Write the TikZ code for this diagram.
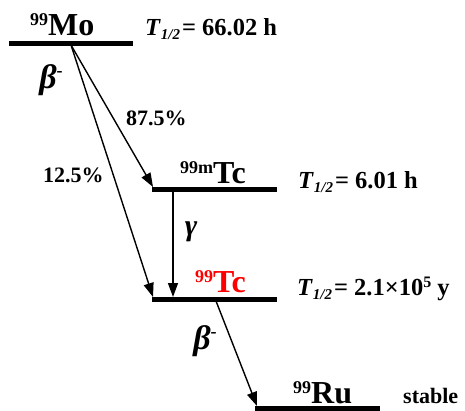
\documentclass[tikz,border=0pt]{standalone}
\usepackage{fontspec}
\setmainfont{Liberation Serif}
\usetikzlibrary{arrows.meta}
\newcommand{\halfT}{\textit{T}\raisebox{-4pt}{\fontsize{15}{15}\selectfont\itshape 1/2}\kern2pt}
\newcommand{\massno}[1]{\raisebox{10pt}{\fontsize{18}{18}\selectfont #1}}
\newcommand{\expo}[1]{\raisebox{8pt}{\fontsize{16}{16}\selectfont #1}}
\newcommand{\betaminus}{β\raisebox{12pt}{\fontsize{18}{18}\selectfont\upshape -}}
\begin{document}
\begin{tikzpicture}[x=1pt,y=-1pt,
 level/.style={line width=5pt},
 decay/.style={line width=1.4pt,-{Triangle[length=14pt,width=10pt]}},
 nuc/.style={font=\fontsize{32}{34}\selectfont\bfseries, inner sep=0, anchor=base west},
 half/.style={font=\fontsize{24.5}{26}\selectfont\bfseries, anchor=base west, inner sep=0},
 lbl/.style={font=\fontsize{22}{24}\selectfont\bfseries, inner sep=0, anchor=base west},
 greek/.style={font=\fontsize{34}{36}\selectfont\bfseries\itshape, inner sep=0}]
\useasboundingbox (0,0) rectangle (465,410);
% levels
\coordinate (moL) at (9,43);   \coordinate (moR) at (133,43);
\coordinate (tcmL) at (152,189); \coordinate (tcmR) at (277,189);
\coordinate (tcL) at (152,299); \coordinate (tcR) at (277,299);
\coordinate (ruL) at (255,408); \coordinate (ruR) at (380,408);
\draw[level] (moL) -- (moR);
\draw[level] (tcmL) -- (tcmR);
\draw[level] (tcL) -- (tcR);
\draw[level] (ruL) -- (ruR);
% arrow endpoints
\coordinate (moS) at (71,45);
\coordinate (gS) at (173,191);
\coordinate (gE) at (173,297);
\coordinate (tcS) at (216,301);
\coordinate (ruE) at (257,406);
\coordinate (tcmE) at (153,187);
\coordinate (tcE) at (153,297);
\draw[decay] (moS) -- (tcmE);
\draw[decay] (moS) -- (tcE);
\draw[decay] (gS) -- (gE);
\draw[decay] (tcS) -- (ruE);
% labels
\node[nuc] (mo) at (30,35) {\massno{99}Mo};
\node[half] (tmo) at (145,35) {\halfT= 66.02 h};
\node[nuc] (tcm) at (180,183) {\massno{99m}Tc};
\node[half] (ttcm) at (298,188) {\halfT= 6.01 h};
\node[nuc, text=red] (tc) at (195,292) {\massno{99}Tc};
\node[half] (ttc) at (297,295) {\halfT= 2.1×10\expo{5} y};
\node[nuc] (ru) at (293,403) {\massno{99}Ru};
\node[font=\fontsize{22}{24}\selectfont\bfseries, anchor=base west, inner sep=0] (st) at (403,403) {stable};
\node[greek] (b1) at (51,80) {\betaminus};
\node[lbl] (p875) at (126,125) {87.5\%};
\node[lbl] (p125) at (43,182) {12.5\%};
\node[greek, font=\fontsize{30}{32}\selectfont\bfseries\itshape] (g) at (191,232) {γ};
\node[greek] (b2) at (205,341) {\betaminus};
\end{tikzpicture}
\end{document}
